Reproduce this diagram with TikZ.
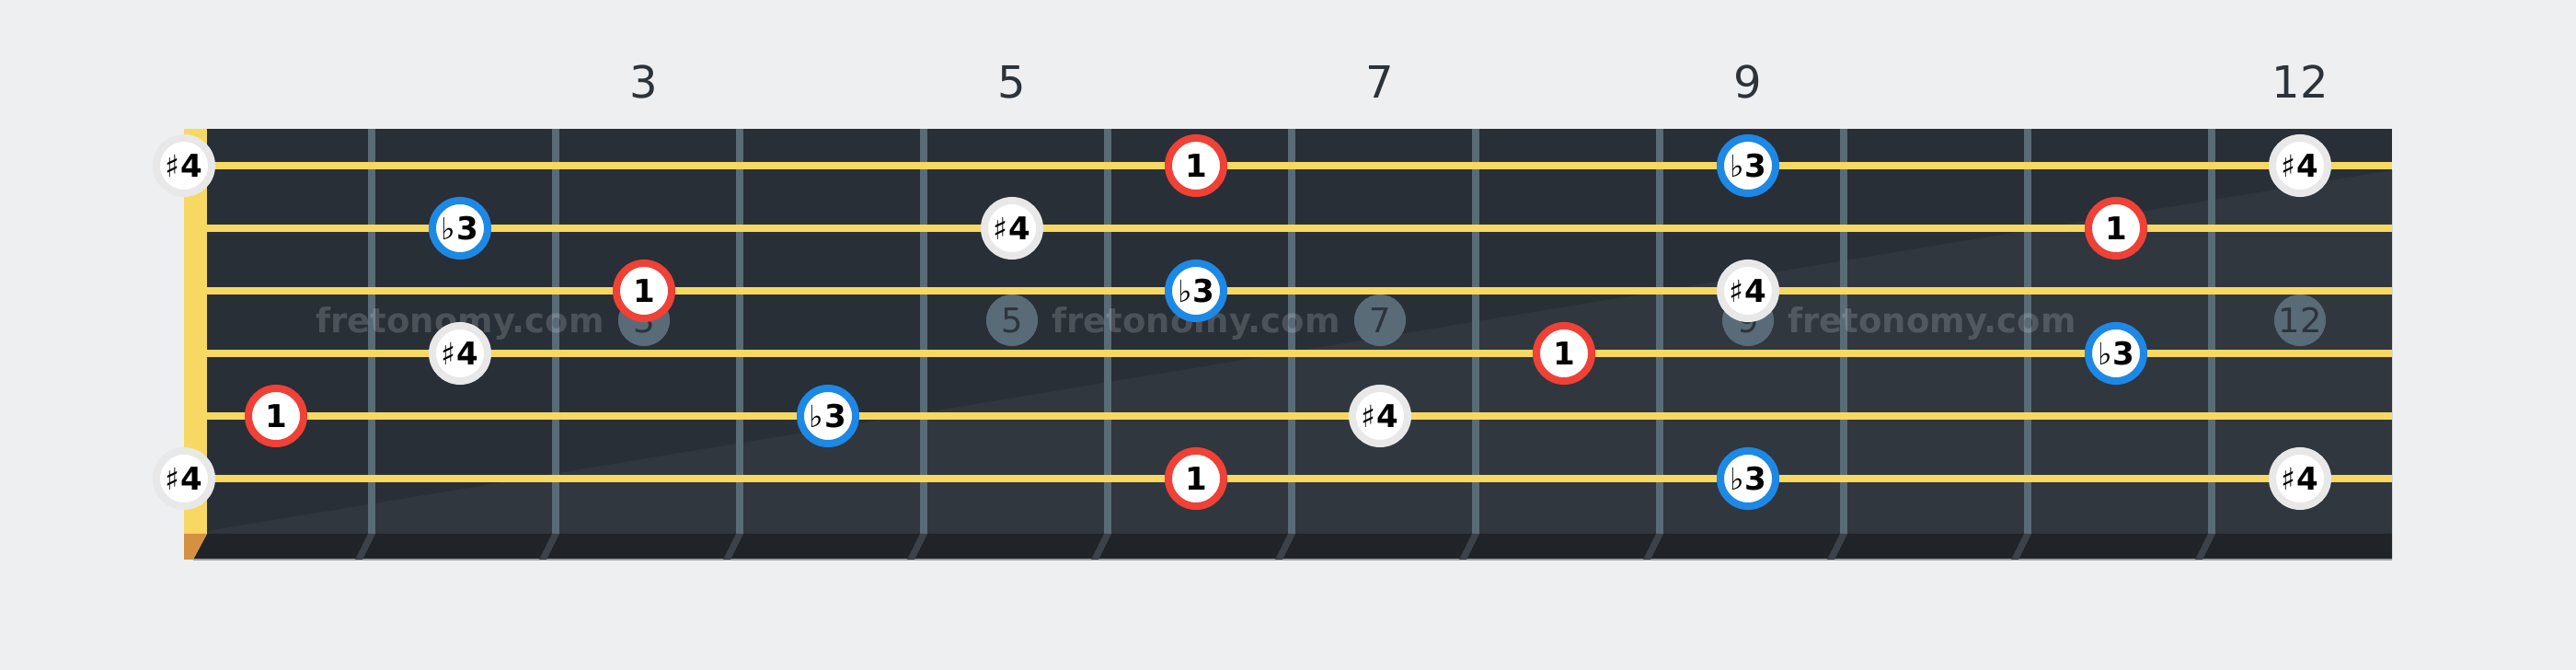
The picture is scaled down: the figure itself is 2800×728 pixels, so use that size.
\documentclass[tikz,border=0pt]{standalone}
\usepackage{fontspec}
\setmainfont{DejaVu Sans}
\newfontfamily\symfont{DejaVu Sans}
\definecolor{pagebg}{HTML}{EEEFF1}
\definecolor{boardtop}{HTML}{282F37}
\definecolor{boardlow}{HTML}{30373F}
\definecolor{stripbg}{HTML}{202428}
\definecolor{fretcol}{HTML}{5A6B78}
\definecolor{strcol}{HTML}{F7D862}
\definecolor{nutbot}{HTML}{D4913F}
\definecolor{slantcol}{HTML}{3C424A}
\definecolor{edgecol}{HTML}{9AA0A6}
\definecolor{labeldark}{HTML}{2B333B}
\definecolor{inlaytext}{HTML}{2D343C}
\definecolor{redring}{HTML}{EF4136}
\definecolor{bluering}{HTML}{1E88E5}
\definecolor{grayring}{HTML}{E8E8E8}
\newcommand\shp{{\symfont\fontsize{9.4pt}{11pt}\selectfont ♯}}
\newcommand\flt{{\symfont\fontsize{9.4pt}{11pt}\selectfont ♭}}
\tikzset{
  notebase/.style={circle, fill=white, line width=2.276pt, minimum size=0.6cm, inner sep=0pt,
    font=\fontsize{9.7pt}{11pt}\selectfont\bfseries, text=black, text height=7.05pt, text depth=0pt},
  rootnote/.style={notebase, draw=redring, node contents={1}},
  flatthree/.style={notebase, draw=bluering, node contents={\flt\kern0.2pt 3}},
  sharpfour/.style={notebase, draw=grayring, node contents={\shp\kern0.2pt 4}},
  fretline/.style={fretcol, line width=2.276pt},
  stringline/.style={strcol, line width=2.276pt},
  inlay/.style={circle, fill=fretcol, minimum size=0.56cm, inner sep=0pt, text=inlaytext,
    font=\fontsize{10.5pt}{12pt}\selectfont, text height=7.6pt, text depth=0pt},
  fretnum/.style={text=labeldark, font=\fontsize{13.66pt}{16pt}\selectfont, text height=9.95pt, text depth=0pt, inner sep=0pt},
  watermark/.style={text=white, text opacity=0.17, font=\fontsize{10.5pt}{12pt}\selectfont\bfseries, anchor=base, inner sep=0pt}
}
\begin{document}
\begin{tikzpicture}[x=0.01cm,y=-0.01cm]
\useasboundingbox (0,0) rectangle (2800,728);
\fill[pagebg] (0,0) rectangle (2800,728);
% fretboard
\fill[boardtop] (225,140) rectangle (2600,580);
\fill[boardlow] (225,577) -- (2600,185) -- (2600,580) -- (225,580) -- cycle;
% bottom strip
\fill[stripbg] (225,580) -- (2600,580) -- (2600,608) -- (210,608) -- cycle;
\draw[edgecol, line width=0.5pt] (210,608) -- (2600,608);
% nut
\fill[strcol] (200,140) rectangle (225,580);
\fill[nutbot] (200,580) -- (225,580) -- (210,608) -- (200,608) -- cycle;
% frets
\foreach \n in {1,...,11}{
  \pgfmathsetmacro\fx{204+200*\n}
  \draw[fretline] (\fx,140) -- (\fx,580);
  \fill[slantcol] (\fx-4,580) -- (\fx+4,580) -- (\fx-10,608) -- (\fx-18,608) -- cycle;
}
% inlays
\foreach \n in {3,5,7,9,12}{
  \node[inlay] (in\n) at (100+200*\n,348) {\n};
  \node[fretnum] (fn\n) at (100+200*\n,89) {\n};
}
% watermarks
\node[watermark] (wm1) at (500,362) {fretonomy.com};
\node[watermark] (wm2) at (1300,362) {fretonomy.com};
\node[watermark] (wm3) at (2100,362) {fretonomy.com};
% strings
\foreach \s in {1,...,6}{
  \draw[stringline] (225,112+68*\s) -- (2600,112+68*\s);
}
% notes
\foreach \x/\y/\t [count=\k] in {
  200/180/sharpfour, 1300/180/rootnote, 1900/180/flatthree, 2500/180/sharpfour,
  500/248/flatthree, 1100/248/sharpfour, 2300/248/rootnote,
  700/316/rootnote, 1300/316/flatthree, 1900/316/sharpfour,
  500/384/sharpfour, 1700/384/rootnote, 2300/384/flatthree,
  300/452/rootnote, 900/452/flatthree, 1500/452/sharpfour,
  200/520/sharpfour, 1300/520/rootnote, 1900/520/flatthree, 2500/520/sharpfour}{
  \node (note\k) at (\x,\y) [\t];
}
\end{tikzpicture}
\end{document}
